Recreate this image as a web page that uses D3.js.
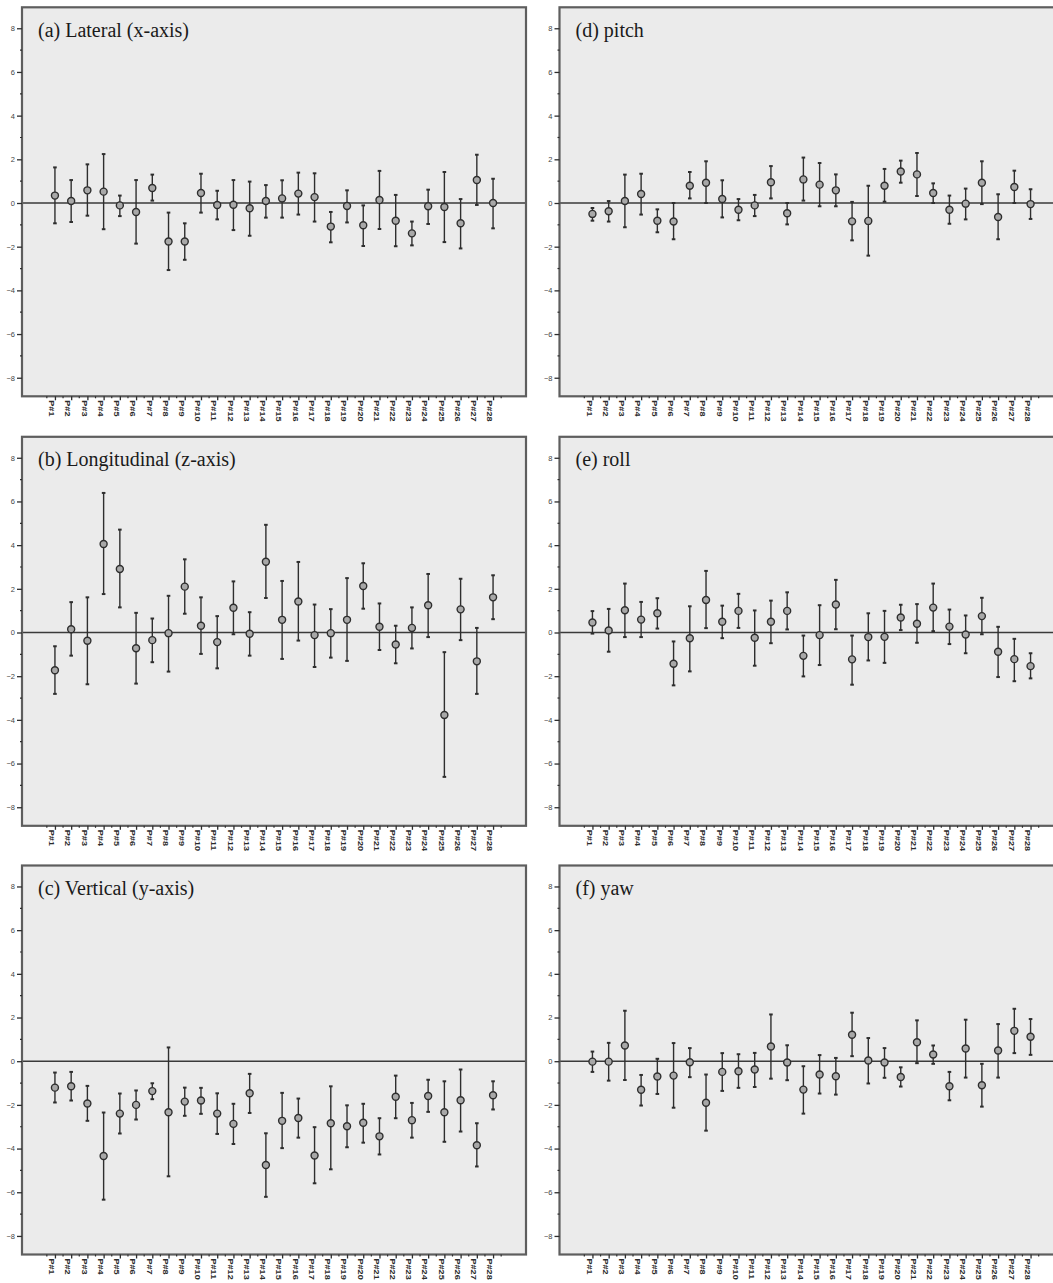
<!DOCTYPE html>
<html>
<head>
<meta charset="utf-8">
<script src="https://cdn.jsdelivr.net/npm/d3@7"></script>
<style>
  body { margin: 0; background: #fff; }
  svg { display: block; }
</style>
</head>
<body>
<div id="chart"></div>
<script>
const PARTICIPANTS = ["P#1", "P#2", "P#3", "P#4", "P#5", "P#6", "P#7", "P#8", "P#9", "P#10",
  "P#11", "P#12", "P#13", "P#14", "P#15", "P#16", "P#17", "P#18", "P#19", "P#20",
  "P#21", "P#22", "P#23", "P#24", "P#25", "P#26", "P#27", "P#28"];

const Y_TICKS = [-8, -6, -4, -2, 0, 2, 4, 6, 8];
const Y_MINOR = [-7, -5, -3, -1, 1, 3, 5, 7];

// (a) Lateral (x-axis)
const lateralMean = [0.34, 0.09, 0.58, 0.52, -0.11, -0.41, 0.69, -1.76, -1.76, 0.46, -0.09, -0.08, -0.24, 0.09,
  0.21, 0.43, 0.27, -1.08, -0.14, -1.02, 0.14, -0.81, -1.39, -0.15, -0.18, -0.93, 1.05, 0.0];
const lateralLow = [-0.93, -0.87, -0.58, -1.2, -0.6, -1.86, 0.11, -3.07, -2.6, -0.44, -0.75, -1.24, -1.5, -0.67,
  -0.67, -0.53, -0.85, -1.8, -0.89, -1.97, -1.19, -1.98, -1.94, -0.96, -1.79, -2.08, -0.09, -1.16];
const lateralHigh = [1.63, 1.05, 1.77, 2.24, 0.34, 1.05, 1.3, -0.44, -0.93, 1.34, 0.56, 1.05, 0.98, 0.82,
  1.04, 1.39, 1.36, -0.41, 0.58, -0.11, 1.47, 0.37, -0.85, 0.61, 1.42, 0.18, 2.21, 1.11];

// (b) Longitudinal (z-axis)
const longMean = [-1.73, 0.15, -0.38, 4.05, 2.91, -0.72, -0.35, -0.03, 2.1, 0.31, -0.44, 1.13, -0.06, 3.24,
  0.58, 1.42, -0.12, -0.03, 0.58, 2.13, 0.26, -0.55, 0.21, 1.25, -3.78, 1.06, -1.32, 1.61];
const longLow = [-2.81, -1.06, -2.37, 1.76, 1.15, -2.34, -1.36, -1.79, 0.86, -0.98, -1.64, -0.08, -1.06, 1.58,
  -1.21, -0.37, -1.58, -1.15, -1.3, 1.09, -0.8, -1.41, -0.73, -0.21, -6.61, -0.35, -2.81, 0.61];
const longHigh = [-0.63, 1.39, 1.61, 6.39, 4.71, 0.9, 0.64, 1.68, 3.35, 1.61, 0.75, 2.34, 0.93, 4.93,
  2.36, 3.23, 1.28, 1.07, 2.49, 3.17, 1.33, 0.31, 1.15, 2.68, -0.9, 2.46, 0.21, 2.62];

// (c) Vertical (y-axis)
const vertMean = [-1.21, -1.15, -1.94, -4.34, -2.4, -2.0, -1.37, -2.34, -1.85, -1.8, -2.4, -2.87, -1.47, -4.75,
  -2.73, -2.6, -4.32, -2.84, -2.98, -2.82, -3.44, -1.63, -2.7, -1.59, -2.34, -1.79, -3.85, -1.56];
const vertLow = [-1.89, -1.8, -2.73, -6.34, -3.31, -2.67, -1.74, -5.27, -2.5, -2.41, -3.33, -3.79, -2.37, -6.21,
  -3.98, -3.5, -5.59, -4.95, -3.94, -3.73, -4.27, -2.61, -3.5, -2.32, -3.69, -3.22, -4.82, -2.21];
const vertHigh = [-0.52, -0.49, -1.13, -2.35, -1.48, -1.34, -1.01, 0.63, -1.21, -1.22, -1.47, -1.95, -0.58, -3.3,
  -1.45, -1.71, -3.02, -1.15, -2.02, -1.95, -2.61, -0.66, -1.91, -0.85, -0.92, -0.38, -2.84, -0.92];

// (d) pitch
const pitchMean = [-0.5, -0.38, 0.09, 0.41, -0.81, -0.85, 0.79, 0.93, 0.18, -0.31, -0.11, 0.95, -0.47, 1.08,
  0.84, 0.58, -0.84, -0.82, 0.79, 1.44, 1.31, 0.46, -0.31, -0.03, 0.93, -0.64, 0.73, -0.05];
const pitchLow = [-0.81, -0.85, -1.11, -0.53, -1.34, -1.66, 0.21, 0.0, -0.66, -0.79, -0.6, 0.21, -0.98, 0.11,
  -0.15, -0.15, -1.71, -2.41, 0.06, 0.93, 0.32, 0.0, -0.95, -0.75, -0.05, -1.66, 0.0, -0.73];
const pitchHigh = [-0.23, 0.09, 1.3, 1.34, -0.29, 0.0, 1.42, 1.91, 1.04, 0.18, 0.37, 1.69, 0.0, 2.08,
  1.83, 1.31, 0.05, 0.79, 1.56, 1.94, 2.29, 0.9, 0.34, 0.66, 1.91, 0.4, 1.48, 0.63];

// (e) roll
const rollMean = [0.46, 0.09, 1.02, 0.59, 0.88, -1.43, -0.26, 1.49, 0.49, 0.99, -0.24, 0.49, 0.99, -1.07,
  -0.12, 1.28, -1.23, -0.21, -0.2, 0.69, 0.4, 1.14, 0.27, -0.09, 0.75, -0.88, -1.22, -1.54];
const rollLow = [-0.05, -0.88, -0.21, -0.21, 0.18, -2.42, -1.78, 0.2, -0.26, 0.21, -1.52, -0.49, 0.14, -2.01,
  -1.49, 0.15, -2.39, -1.28, -1.39, 0.11, -0.47, 0.06, -0.53, -0.95, -0.08, -2.04, -2.23, -2.1];
const rollHigh = [0.98, 1.08, 2.24, 1.4, 1.57, -0.41, 1.2, 2.82, 1.23, 1.77, 1.01, 1.46, 1.84, -0.14,
  1.25, 2.41, -0.14, 0.88, 0.99, 1.27, 1.3, 2.24, 1.05, 0.78, 1.59, 0.26, -0.29, -0.95];

// (f) yaw
const yawMean = [-0.02, -0.02, 0.72, -1.31, -0.7, -0.66, -0.05, -1.9, -0.49, -0.46, -0.38, 0.67, -0.06, -1.3,
  -0.61, -0.69, 1.21, 0.03, -0.06, -0.72, 0.87, 0.31, -1.15, 0.58, -1.1, 0.49, 1.39, 1.12];
const yawLow = [-0.49, -0.89, -0.86, -2.03, -1.5, -2.13, -0.73, -3.18, -1.36, -1.22, -1.18, -0.8, -0.87, -2.4,
  -1.48, -1.53, 0.23, -1.02, -0.76, -1.16, -0.09, -0.12, -1.79, -0.75, -2.08, -0.75, 0.37, 0.29];
const yawHigh = [0.44, 0.84, 2.31, -0.63, 0.11, 0.83, 0.6, -0.61, 0.37, 0.32, 0.38, 2.14, 0.73, -0.23,
  0.28, 0.15, 2.22, 1.06, 0.6, -0.28, 1.87, 0.72, -0.49, 1.9, -0.12, 1.7, 2.4, 1.93];

const PANELS = [
  { title: "(a) Lateral (x-axis)", col: 0, row: 0, mean: lateralMean, low: lateralLow, high: lateralHigh },
  { title: "(b) Longitudinal (z-axis)", col: 0, row: 1, mean: longMean, low: longLow, high: longHigh },
  { title: "(c) Vertical (y-axis)", col: 0, row: 2, mean: vertMean, low: vertLow, high: vertHigh },
  { title: "(d) pitch", col: 1, row: 0, mean: pitchMean, low: pitchLow, high: pitchHigh },
  { title: "(e) roll", col: 1, row: 1, mean: rollMean, low: rollLow, high: rollHigh },
  { title: "(f) yaw", col: 1, row: 2, mean: yawMean, low: yawLow, high: yawHigh },
];

const width = 1053;
const height = 1283;
const plotW = 504;
const plotH = 389;
const colX = [22, 559.5];
const rowY = [7.3, 436.8, 865.5];
const ink = "#2e2e2e";

const svg = d3.select("#chart")
  .append("svg")
  .attr("width", width)
  .attr("height", height);

const x = d3.scalePoint()
  .domain(PARTICIPANTS)
  .range([0, plotW])
  .padding(2.03);

const y = d3.scaleLinear()
  .domain([-8.85, 8.96])
  .range([plotH, 0]);

function drawPanel(p) {
  const g = svg.append("g")
    .attr("transform", `translate(${colX[p.col]},${rowY[p.row]})`);

  g.append("rect")
    .attr("width", plotW)
    .attr("height", plotH)
    .attr("fill", "#ebebeb");

  // reference line at zero
  g.append("line")
    .attr("x1", 0).attr("x2", plotW)
    .attr("y1", y(0)).attr("y2", y(0))
    .attr("stroke", "#3a3a3a")
    .attr("stroke-width", 1.6);

  const rows = PARTICIPANTS.map((name, i) => ({
    name, mean: p.mean[i], low: p.low[i], high: p.high[i],
  }));

  const bars = g.append("g").selectAll("g")
    .data(rows)
    .join("g")
    .attr("transform", (d) => `translate(${x(d.name)},0)`);

  bars.append("line")
    .attr("y1", (d) => y(d.low))
    .attr("y2", (d) => y(d.high))
    .attr("stroke", ink)
    .attr("stroke-width", 1.4);

  bars.selectAll("line.cap")
    .data((d) => [d.low, d.high])
    .join("line")
    .attr("class", "cap")
    .attr("x1", -1.8).attr("x2", 1.8)
    .attr("y1", (v) => y(v)).attr("y2", (v) => y(v))
    .attr("stroke", ink)
    .attr("stroke-width", 2);

  bars.append("circle")
    .attr("cy", (d) => y(d.mean))
    .attr("r", 3.5)
    .attr("fill", "#a8a8a8")
    .attr("stroke", ink)
    .attr("stroke-width", 1.4);

  // frame
  g.append("rect")
    .attr("width", plotW)
    .attr("height", plotH)
    .attr("fill", "none")
    .attr("stroke", "#5e5e5e")
    .attr("stroke-width", 2.2);

  g.append("text")
    .attr("x", 16)
    .attr("y", 29.5)
    .attr("font-family", "Liberation Serif, Times New Roman, serif")
    .attr("font-size", 20)
    .attr("fill", "#1a1a1a")
    .text(p.title);

  // y axis
  const yAxis = g.append("g")
    .call(d3.axisLeft(y).tickValues(Y_TICKS).tickSize(5).tickPadding(2)
      .tickFormat(d3.format("d")));
  yAxis.select(".domain").remove();
  yAxis.selectAll(".tick line").attr("stroke", ink).attr("stroke-width", 1.3);
  yAxis.selectAll(".tick text")
    .attr("font-family", "Liberation Sans, Arial, sans-serif")
    .attr("font-size", 7.5)
    .attr("fill", "#444");

  g.append("g").selectAll("line")
    .data(Y_MINOR)
    .join("line")
    .attr("x1", -2).attr("x2", 0)
    .attr("y1", (v) => y(v)).attr("y2", (v) => y(v))
    .attr("stroke", ink)
    .attr("stroke-width", 1.2);

  // x axis
  const xAxis = g.append("g")
    .attr("transform", `translate(0,${plotH})`)
    .call(d3.axisBottom(x).tickSize(4).tickPadding(0));
  xAxis.select(".domain").remove();
  xAxis.selectAll(".tick line").attr("stroke", ink).attr("stroke-width", 1.3);
  xAxis.selectAll(".tick text")
    .attr("font-family", "Liberation Sans, Arial, sans-serif")
    .attr("font-weight", "bold")
    .attr("font-size", 7)
    .attr("fill", "#2a2a2a")
    .attr("text-anchor", "start")
    .attr("dy", "0.32em")
    .attr("transform", "translate(0,4) rotate(90) scale(1.3,1)");

  const step = x.step();
  g.append("g").selectAll("line")
    .data(PARTICIPANTS.concat(["end"]))
    .join("line")
    .attr("x1", (d, i) => x(PARTICIPANTS[0]) + (i - 0.5) * step)
    .attr("x2", (d, i) => x(PARTICIPANTS[0]) + (i - 0.5) * step)
    .attr("y1", plotH).attr("y2", plotH + 2)
    .attr("stroke", ink)
    .attr("stroke-width", 1.2);
}

PANELS.forEach(drawPanel);
</script>
</body>
</html>
